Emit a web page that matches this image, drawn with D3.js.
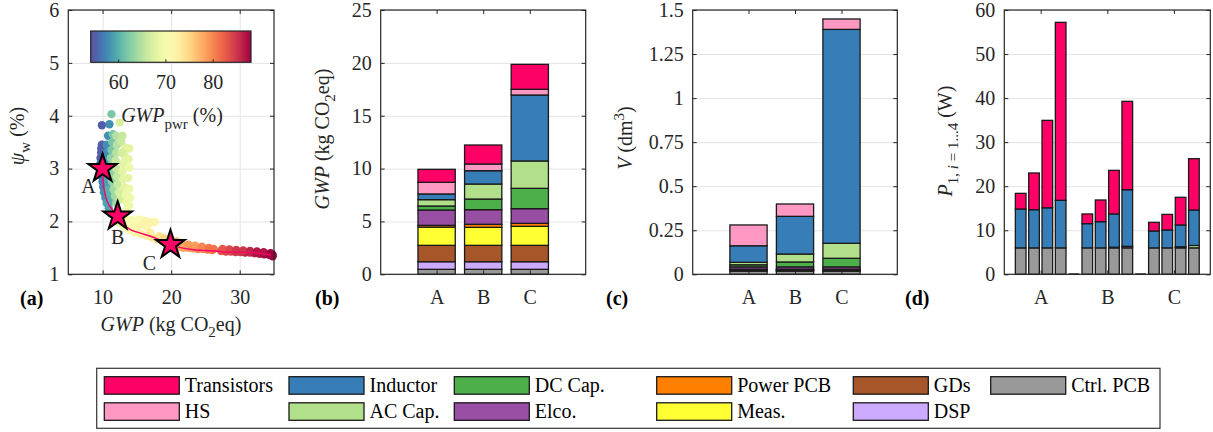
<!DOCTYPE html>
<html>
<head>
<meta charset="utf-8">
<script src="https://cdn.jsdelivr.net/npm/d3@7"></script>
<style>
  body { margin: 0; background: #fff; }
  svg { display: block; font-family: "Liberation Serif", "Times New Roman", serif; }
</style>
</head>
<body>
<svg id="fig" width="1213" height="432"></svg>
<script>
// ---------------- data ----------------
// components in stacking order, bottom to top
const components = ["Ctrl. PCB", "DSP", "GDs", "Meas.", "Power PCB", "Elco.", "DC Cap.", "AC Cap.", "Inductor", "HS", "Transistors"];
const componentColors = ["#999999", "#cbaaff", "#a65628", "#ffff33", "#ff7f00", "#984ea3", "#4daf4a", "#b2df8a", "#377eb8", "#ff99c4", "#ff0066"];
const designs = ["A", "B", "C"];

// (b) global warming potential per component, kg CO2eq
const gwpA = [0.47, 0.72, 1.55, 1.73, 0.16, 1.45, 0.38, 0.60, 0.54, 1.10, 1.23];
const gwpB = [0.47, 0.72, 1.55, 1.70, 0.29, 1.38, 1.01, 1.42, 1.26, 0.63, 1.80];
const gwpC = [0.47, 0.72, 1.55, 1.80, 0.28, 1.39, 1.92, 2.59, 6.24, 0.54, 2.36];

// (c) boxed volume per component, dm^3
const volA = [0.018, 0.003, 0.003, 0.003, 0.002, 0.013, 0.012, 0.014, 0.094, 0.118, 0];
const volB = [0.018, 0.003, 0.003, 0.003, 0.002, 0.013, 0.028, 0.045, 0.214, 0.070, 0];
const volC = [0.018, 0.003, 0.003, 0.003, 0.002, 0.013, 0.049, 0.085, 1.214, 0.059, 0];

// (d) losses at the four operating points i = 1..4 of each design, W
const lossCtrlPcb    = [6.0, 6.0, 6.0, 6.0,   6.0, 6.0, 6.0, 6.0,    6.0, 6.0, 6.0, 6.0];
const lossElco       = [0, 0, 0, 0,           0, 0, 0.15, 0.35,     0, 0, 0.25, 0];
const lossAcCap      = [0, 0, 0, 0,           0, 0, 0, 0,           0, 0, 0, 0.55];
const lossInductor   = [8.82, 8.67, 9.10, 10.80, 5.50, 5.95, 7.55, 12.85, 3.83, 4.06, 4.95, 8.05];
const lossTransistor = [3.56, 8.33, 19.85, 40.40, 2.20, 4.92, 9.90, 20.07, 1.97, 3.54, 6.28, 11.65];

// (a) Pareto cloud: GWP (kg CO2eq), winding ripple psi_w (%), power-stage share GWP_pwr (%)
const cloudGwp = [
  9.9, 9.9, 9.8, 9.8, 9.7, 9.7, 9.8, 9.9, 10.0, 10.1, 10.2, 10.4, 10.6, 10.9, 11.2,
  11.0, 10.8, 10.6, 10.5, 10.4, 10.4, 10.5, 10.6, 10.8, 11.0, 11.3,
  11.3, 11.5, 11.4, 11.3, 11.2, 11.2, 11.3, 11.4, 11.6, 11.8, 12.0,
  12.0, 12.1, 12.0, 11.9, 12.0, 12.1, 12.2, 12.4, 12.6,
  12.5, 13.3, 13.2, 13.0, 12.9, 13.0, 13.2, 13.4, 13.5, 13.6,
  13.9, 13.8, 13.9, 13.7, 13.9, 14.0, 13.9, 12.9, 12.7, 12.8,
  12.8, 13.3, 13.0, 13.5, 12.5,
  14.2, 14.8, 15.3, 15.9, 16.4, 17.0, 17.6, 14.5, 15.5, 16.5,
  13.2, 14.0, 14.8, 15.6, 16.4, 17.2, 18.0, 18.8, 19.5, 17.0, 18.3, 19.0,
  20.5, 21.2, 21.8, 22.5, 23.2, 23.9, 24.6, 25.3, 26.0, 20.8, 21.5, 22.5, 23.5, 24.5, 25.5, 26.2,
  27.3, 28.0, 28.7, 29.4, 30.1, 30.8, 31.5, 32.2, 32.9, 33.6, 34.3, 34.8,
  27.5, 28.5, 29.5, 30.5, 31.5, 32.5, 33.5, 34.5, 34.8
];
const cloudPsi = [
  3.82, 3.45, 3.38, 3.30, 3.20, 3.10, 2.95, 2.85, 2.75, 2.65, 2.55, 2.45, 2.35, 2.25, 2.15,
  3.84, 3.62, 3.45, 3.30, 3.15, 3.00, 2.85, 2.70, 2.60, 2.50, 2.38,
  4.03, 3.65, 3.50, 3.35, 3.20, 3.05, 2.90, 2.75, 2.60, 2.48, 2.35,
  3.62, 3.45, 3.30, 3.15, 3.00, 2.85, 2.70, 2.55, 2.42,
  3.87, 3.40, 3.25, 3.10, 2.95, 2.80, 2.65, 2.50, 2.37, 2.25,
  3.38, 3.18, 3.02, 2.82, 2.62, 2.45, 2.30, 3.62, 3.52, 3.30,
  2.15, 2.10, 2.02, 1.98, 1.97,
  2.03, 2.00, 2.04, 2.02, 2.00, 1.98, 1.99, 1.90, 1.92, 1.90,
  1.88, 1.83, 1.79, 1.76, 1.73, 1.70, 1.66, 1.62, 1.58, 1.78, 1.72, 1.68,
  1.55, 1.52, 1.50, 1.50, 1.49, 1.48, 1.48, 1.47, 1.46, 1.62, 1.58, 1.56, 1.54, 1.52, 1.50, 1.48,
  1.44, 1.43, 1.43, 1.42, 1.42, 1.41, 1.41, 1.40, 1.39, 1.38, 1.37, 1.37,
  1.48, 1.47, 1.46, 1.45, 1.44, 1.43, 1.42, 1.40, 1.34
];
const cloudPwr = [
  55, 55, 55, 55, 55, 56, 56, 56, 57, 57, 58, 58, 59, 59, 60,
  58, 58, 58, 58, 58, 59, 59, 59, 60, 60, 60,
  62, 62, 62, 62, 63, 63, 63, 63, 64, 64, 64,
  65, 65, 65, 66, 66, 66, 66, 67, 67,
  67, 68, 68, 68, 68, 68, 68, 69, 69, 69,
  68, 68, 69, 68, 69, 69, 69, 66, 66, 67,
  69, 70, 70, 70, 68,
  70, 71, 71, 71, 72, 72, 72, 71, 72, 72,
  70, 71, 72, 73, 73, 74, 75, 76, 76, 73, 74, 75,
  77, 78, 78, 79, 79, 80, 80, 81, 81, 77, 78, 79, 79, 80, 81, 81,
  83, 84, 84, 85, 85, 86, 86, 87, 87, 88, 88, 88,
  83, 84, 85, 85, 86, 87, 87, 88, 88
];

// selected designs on the front, and the front line itself
const designGwp = [10.0, 12.2, 19.9];
const designPsi = [3.0, 2.1, 1.56];
const frontGwp = [10.0, 10.1, 10.4, 11.0, 11.7, 12.2, 13.0, 14.0, 15.5, 17.0, 18.5, 19.9, 21.5, 23.0, 25.0, 26.5, 28.0, 30.0, 32.0, 33.5, 34.5];
const frontPsi = [3.0, 2.75, 2.5, 2.3, 2.18, 2.1, 1.95, 1.85, 1.78, 1.72, 1.64, 1.56, 1.50, 1.47, 1.45, 1.44, 1.42, 1.42, 1.41, 1.39, 1.36];

// tick values
const psiTicks = [1, 2, 3, 4, 5, 6];
const gwpAxisTicks = [10, 20, 30];
const pwrTicks = [60, 70, 80];
const gwpBarTicks = [0, 5, 10, 15, 20, 25];
const volTicks = [0, 0.25, 0.5, 0.75, 1, 1.25, 1.5];
const lossTicks = [0, 10, 20, 30, 40, 50, 60];

// ---------------- drawing ----------------
const svg = d3.select("#fig");
const ink = "#262626";
const gridColor = "#e4e4e4";
const fontSize = 20;
const plotTop = 10, plotBottom = 274.3;
const edge = "#1a1a1a";

function grid(ys, yTicks, xs, xTicks) {
  const [x0, x1] = xs.range();
  const g = svg.append("g");
  g.append("g").attr("transform", `translate(${x0},0)`)
    .call(d3.axisLeft(ys).tickValues(yTicks).tickSize(-(x1 - x0)).tickFormat(""))
    .call(a => a.select(".domain").remove())
    .call(a => a.selectAll("line").attr("stroke", gridColor).attr("stroke-width", 1));
  if (xTicks) {
    g.append("g").attr("transform", `translate(0,${plotBottom})`)
      .call(d3.axisBottom(xs).tickValues(xTicks).tickSize(-(plotBottom - plotTop)).tickFormat(""))
      .call(a => a.select(".domain").remove())
      .call(a => a.selectAll("line").attr("stroke", gridColor).attr("stroke-width", 1));
  }
}

function styleAxis(a) {
  a.select(".domain").remove();
  a.selectAll("line").attr("stroke", ink).attr("stroke-width", 1);
  a.selectAll("text").attr("fill", ink).attr("font-size", fontSize).attr("font-family", "Liberation Serif");
}

function frame(xs, ys, xTicks, xFormat, yTicks, yFormat) {
  const [x0, x1] = xs.range();
  const g = svg.append("g");
  g.append("g").attr("transform", `translate(${x0},0)`)
    .call(d3.axisLeft(ys).tickValues(yTicks).tickFormat(yFormat).tickSize(-4).tickPadding(9)).call(styleAxis);
  g.append("g").attr("transform", `translate(${x1},0)`)
    .call(d3.axisRight(ys).tickValues(yTicks).tickFormat("").tickSize(-4)).call(styleAxis);
  g.append("g").attr("transform", `translate(0,${plotBottom})`)
    .call(d3.axisBottom(xs).tickValues(xTicks).tickFormat(xFormat).tickSize(-4).tickPadding(16)).call(styleAxis);
  g.append("g").attr("transform", `translate(0,${plotTop})`)
    .call(d3.axisTop(xs).tickValues(xTicks).tickFormat("").tickSize(-4)).call(styleAxis);
  g.append("rect").attr("x", x0).attr("y", plotTop).attr("width", x1 - x0).attr("height", plotBottom - plotTop)
    .attr("fill", "none").attr("stroke", ink).attr("stroke-width", 1.2);
}

function rotatedLabel(x, y, build) {
  const t = svg.append("text").attr("transform", `translate(${x},${y}) rotate(-90)`)
    .attr("text-anchor", "middle").attr("font-size", fontSize).attr("fill", ink);
  build(t);
}

function panelTag(x, label) {
  svg.append("text").attr("x", x).attr("y", 305).attr("font-size", fontSize).attr("font-weight", "bold")
    .attr("fill", "#000").text(label);
}

function stackBars(xs, ys, values, xIndex, width) {
  let base = 0;
  values.forEach((v, k) => {
    if (v > 0) {
      svg.append("rect")
        .attr("x", xs(xIndex) - width / 2).attr("width", width)
        .attr("y", ys(base + v)).attr("height", ys(base) - ys(base + v))
        .attr("fill", componentColors[k]).attr("stroke", edge).attr("stroke-width", 1.3);
    }
    base += v;
  });
}

// ---- (a) Pareto front ----
{
  const xs = d3.scaleLinear().domain([5, 35]).range([68.3, 274]);
  const ys = d3.scaleLinear().domain([1, 6]).range([plotBottom, plotTop]);
  const cMin = 54.2, cMax = 88.1;
  const color = d3.scaleSequential(t => d3.interpolateSpectral(1 - t)).domain([cMin, cMax]);

  grid(ys, psiTicks, xs, gwpAxisTicks);

  svg.append("g").selectAll("circle").data(cloudGwp).join("circle")
    .attr("cx", d => xs(d)).attr("cy", (d, i) => ys(cloudPsi[i])).attr("r", 4.2)
    .attr("fill", (d, i) => color(cloudPwr[i]));

  const line = d3.line().x(d => xs(d[0])).y(d => ys(d[1])).curve(d3.curveMonotoneX);
  svg.append("path").datum(d3.zip(frontGwp, frontPsi)).attr("d", line)
    .attr("fill", "none").attr("stroke", "#ff0066").attr("stroke-width", 1.4);

  const star = d3.symbol(d3.symbolStar, 15 * 15 / 0.8908130915292852);
  svg.append("g").selectAll("path").data(designGwp).join("path")
    .attr("transform", (d, i) => `translate(${xs(d)},${ys(designPsi[i])})`)
    .attr("d", star).attr("fill", "#ff0066").attr("stroke", "#000").attr("stroke-width", 2).attr("stroke-linejoin", "miter");

  const tagOffsets = [[-14, 24], [0, 28], [-21, 25]];
  svg.append("g").selectAll("text").data(designs).join("text")
    .attr("x", (d, i) => xs(designGwp[i]) + tagOffsets[i][0])
    .attr("y", (d, i) => ys(designPsi[i]) + tagOffsets[i][1])
    .attr("text-anchor", "middle").attr("font-size", fontSize).attr("fill", ink).text(d => d);

  frame(xs, ys, gwpAxisTicks, d3.format("d"), psiTicks, d3.format("d"));

  // colour bar
  const cb = d3.scaleLinear().domain([cMin, cMax]).range([90.7, 251]);
  const grad = svg.append("defs").append("linearGradient").attr("id", "pwrGrad");
  d3.range(0, 1.0001, 0.05).forEach(t => {
    grad.append("stop").attr("offset", t).attr("stop-color", color(cMin + t * (cMax - cMin)));
  });
  svg.append("rect").attr("x", cb.range()[0]).attr("y", 31).attr("width", cb.range()[1] - cb.range()[0])
    .attr("height", 31.3).attr("fill", "url(#pwrGrad)").attr("stroke", ink).attr("stroke-width", 1.2);
  svg.append("g").attr("transform", "translate(0,62.3)")
    .call(d3.axisBottom(cb).tickValues(pwrTicks).tickSize(-3).tickPadding(13)).call(styleAxis);

  const cbl = svg.append("text").attr("x", 172).attr("y", 122).attr("text-anchor", "middle")
    .attr("font-size", fontSize).attr("fill", ink);
  cbl.append("tspan").attr("font-style", "italic").text("GWP");
  cbl.append("tspan").attr("dy", 7).attr("font-size", 15).text("pwr");
  cbl.append("tspan").attr("dy", -7).text(" (%)");

  rotatedLabel(24, 136, t => {
    t.append("tspan").attr("font-style", "italic").text("ψ");
    t.append("tspan").attr("dy", 6).attr("font-size", 15).text("w");
    t.append("tspan").attr("dy", -6).text(" (%)");
  });
  const xl = svg.append("text").attr("x", 171).attr("y", 331).attr("text-anchor", "middle")
    .attr("font-size", fontSize).attr("fill", ink);
  xl.append("tspan").attr("font-style", "italic").text("GWP");
  xl.append("tspan").text(" (kg CO");
  xl.append("tspan").attr("dy", 6).attr("font-size", 15).text("2");
  xl.append("tspan").attr("dy", -6).text("eq)");
  panelTag(20, "(a)");
}

// ---- (b) GWP breakdown ----
{
  const xs = d3.scaleLinear().domain([-1.2, 3.2]).range([380.7, 585.7]);
  const ys = d3.scaleLinear().domain([0, 25]).range([plotBottom, plotTop]);
  grid(ys, gwpBarTicks, xs, null);
  const bw = xs(0.8) - xs(0);
  [gwpA, gwpB, gwpC].forEach((vals, i) => stackBars(xs, ys, vals, i, bw));
  frame(xs, ys, [0, 1, 2], i => designs[i], gwpBarTicks, d3.format("d"));
  rotatedLabel(329, 139, t => {
    t.append("tspan").attr("font-style", "italic").text("GWP");
    t.append("tspan").text(" (kg CO");
    t.append("tspan").attr("dy", 6).attr("font-size", 15).text("2");
    t.append("tspan").attr("dy", -6).text("eq)");
  });
  panelTag(315, "(b)");
}

// ---- (c) volume breakdown ----
{
  const xs = d3.scaleLinear().domain([-1.2, 3.2]).range([692.7, 897.3]);
  const ys = d3.scaleLinear().domain([0, 1.5]).range([plotBottom, plotTop]);
  grid(ys, volTicks, xs, null);
  const bw = xs(0.8) - xs(0);
  [volA, volB, volC].forEach((vals, i) => stackBars(xs, ys, vals, i, bw));
  frame(xs, ys, [0, 1, 2], i => designs[i], volTicks, d => String(d));
  rotatedLabel(632, 138, t => {
    t.append("tspan").attr("font-style", "italic").text("V");
    t.append("tspan").text(" (dm");
    t.append("tspan").attr("dy", -8).attr("font-size", 15).text("3");
    t.append("tspan").attr("dy", 8).text(")");
  });
  panelTag(606, "(c)");
}

// ---- (d) losses per operating point ----
{
  const xs = d3.scaleLinear().domain([-1.23, 14.23]).range([1004.3, 1210.3]);
  const ys = d3.scaleLinear().domain([0, 60]).range([plotBottom, plotTop]);
  grid(ys, lossTicks, xs, null);
  const bw = xs(0.8) - xs(0);
  const slots = [0, 1, 2, 3, 5, 6, 7, 8, 10, 11, 12, 13];
  const gapSlots = [4, 9];
  slots.forEach((s, j) => {
    const vals = components.map(() => 0);
    vals[components.indexOf("Ctrl. PCB")] = lossCtrlPcb[j];
    vals[components.indexOf("Elco.")] = lossElco[j];
    vals[components.indexOf("AC Cap.")] = lossAcCap[j];
    vals[components.indexOf("Inductor")] = lossInductor[j];
    vals[components.indexOf("Transistors")] = lossTransistor[j];
    stackBars(xs, ys, vals, s, bw);
  });
  svg.append("g").selectAll("rect").data(gapSlots).join("rect")
    .attr("x", d => xs(d) - bw / 2).attr("width", bw).attr("y", ys(0) - 1).attr("height", 1.5)
    .attr("fill", edge);
  frame(xs, ys, [1.5, 6.5, 11.5], (d, i) => designs[i], lossTicks, d3.format("d"));
  rotatedLabel(952, 141, t => {
    t.append("tspan").attr("font-style", "italic").text("P");
    t.append("tspan").attr("dy", 6).attr("font-size", 15).text("1, ");
    t.append("tspan").attr("font-size", 15).attr("font-style", "italic").text("i");
    t.append("tspan").attr("font-size", 15).text(" = 1...4");
    t.append("tspan").attr("dy", -6).text(" (W)");
  });
  panelTag(905, "(d)");
}

// ---- legend ----
{
  const order = components.slice().reverse();
  const colX = [104.3, 289, 454.3, 656.7, 853.3, 990.7];
  const rowY = [376.7, 402.8];
  svg.append("rect").attr("x", 96.7).attr("y", 368.3).attr("width", 1160 - 96.7).attr("height", 60)
    .attr("fill", "#fff").attr("stroke", "#333").attr("stroke-width", 1.2);
  const items = svg.append("g").selectAll("g").data(order).join("g")
    .attr("transform", (d, i) => `translate(${colX[Math.floor(i / 2)]},${rowY[i % 2]})`);
  items.append("rect").attr("width", 75).attr("height", 17.5)
    .attr("fill", d => componentColors[components.indexOf(d)]).attr("stroke", edge).attr("stroke-width", 1.3);
  items.append("text").attr("x", 80.5).attr("y", 15).attr("font-size", fontSize).attr("fill", "#000").text(d => d);
}
</script>
</body>
</html>
